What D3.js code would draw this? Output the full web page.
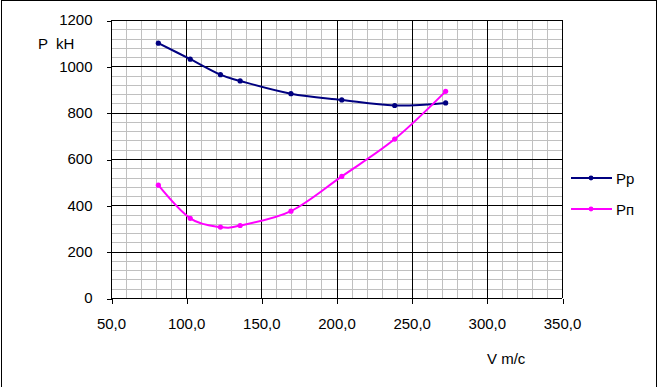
<!DOCTYPE html>
<html>
<head>
  <meta charset="utf-8">
  <title>P(V)</title>
  <style type="text/css">
    body { margin: 0; background-color: #fff; }
    svg { display: block; }
    text { font-family: "Liberation Sans", Arial, sans-serif; font-size: 15px; fill: #000; }
  </style>
  <script src="https://d3js.org/d3.v7.min.js"></script>
</head>
<body>
<script>
// data
var speed = [81.5, 102.7, 122.8, 135.9, 169.7, 203.5, 238.7, 272.6];
var pReq = [1100, 1031, 964, 937, 882, 855, 831, 842];   // Рр
var pAvail = [487, 344, 306, 313, 375, 525, 686, 892];  // Рп
var xTicks = [50, 100, 150, 200, 250, 300, 350];
var yTicks = [0, 200, 400, 600, 800, 1000, 1200];
var seriesNames = ["Рр", "Рп"];
var seriesColors = ["#000080", "#ff00ff"];

var width = 658, height = 387;

var svg = d3.select("body").append("svg")
    .attr("width", width)
    .attr("height", height);

// outer frame
svg.append("rect")
    .attr("x", 1.5).attr("y", 0.5)
    .attr("width", 655).attr("height", 400)
    .attr("fill", "#fff").attr("stroke", "#000");

var x = d3.scaleLinear().domain([50, 350]).range([111, 562]);
var y = d3.scaleLinear().domain([0, 1200]).range([298, 20]);

var grid = svg.append("g").attr("shape-rendering", "crispEdges");

// minor grid
grid.selectAll("line.mx")
  .data(d3.range(60, 350, 10).filter(function(d) { return d % 50 != 0; }))
  .enter().append("line")
    .attr("x1", function(d) { return Math.round(x(d)) + 0.5; })
    .attr("x2", function(d) { return Math.round(x(d)) + 0.5; })
    .attr("y1", y(0)).attr("y2", y(1200))
    .attr("stroke", "#c0c0c0");

grid.selectAll("line.my")
  .data(d3.range(40, 1200, 40).filter(function(d) { return d % 200 != 0; }))
  .enter().append("line")
    .attr("y1", function(d) { return Math.round(y(d)) + 0.5; })
    .attr("y2", function(d) { return Math.round(y(d)) + 0.5; })
    .attr("x1", x(50)).attr("x2", x(350))
    .attr("stroke", "#c0c0c0");

// major grid
grid.selectAll("line.Mx")
  .data(xTicks)
  .enter().append("line")
    .attr("x1", function(d) { return Math.round(x(d)) + 0.5; })
    .attr("x2", function(d) { return Math.round(x(d)) + 0.5; })
    .attr("y1", y(0)).attr("y2", y(1200))
    .attr("stroke", "#000");

grid.selectAll("line.My")
  .data(yTicks)
  .enter().append("line")
    .attr("y1", function(d) { return Math.round(y(d)) + 0.5; })
    .attr("y2", function(d) { return Math.round(y(d)) + 0.5; })
    .attr("x1", x(50)).attr("x2", x(350))
    .attr("stroke", "#000");

// axes
var fmt = function(d) { return d3.format(".1f")(d).replace(".", ","); };

var xAxis = svg.append("g")
    .attr("transform", "translate(0," + (Math.round(y(0)) + 0.5) + ")")
    .call(d3.axisBottom(x).tickValues(xTicks).tickFormat(fmt).tickSize(5).tickPadding(15));
var yAxis = svg.append("g")
    .attr("transform", "translate(" + (Math.round(x(50)) + 0.5) + ",0)")
    .call(d3.axisLeft(y).tickValues(yTicks).tickFormat(d3.format("d")).tickSize(5).tickPadding(14));

[xAxis, yAxis].forEach(function(a) {
  a.attr("font-family", null).attr("font-size", null);
  a.select(".domain").remove();
  a.selectAll(".tick line").attr("stroke", "#000").attr("shape-rendering", "crispEdges");
  a.selectAll(".tick text").attr("fill", "#000");
});
xAxis.selectAll(".tick line").attr("x1", 0.5).attr("x2", 0.5);
yAxis.selectAll(".tick line").attr("y1", 0.5).attr("y2", 0.5);

// axis titles
svg.append("text").attr("x", 38).attr("y", 49).attr("xml:space", "preserve").text("P  kH");
svg.append("text").attr("x", 487).attr("y", 364).text("V m/c");

// series
var line = d3.line()
    .x(function(d) { return x(d[0]); })
    .y(function(d) { return y(d[1]); })
    .curve(d3.curveCardinal.tension(0));

[pReq, pAvail].forEach(function(vals, i) {
  var pts = speed.map(function(v, j) { return [v, vals[j]]; });
  svg.append("path")
      .datum(pts)
      .attr("d", line)
      .attr("fill", "none")
      .attr("stroke", seriesColors[i])
      .attr("stroke-width", 2);
  svg.selectAll("circle.s" + i)
    .data(pts)
    .enter().append("circle")
      .attr("cx", function(d) { return x(d[0]); })
      .attr("cy", function(d) { return y(d[1]); })
      .attr("r", 2.6)
      .attr("fill", seriesColors[i]);
});

// legend
var legend = svg.selectAll("g.legend")
    .data(seriesNames)
    .enter().append("g")
      .attr("transform", function(d, i) { return "translate(571," + (178 + i * 31) + ")"; });
legend.append("line")
    .attr("x1", 0).attr("x2", 41)
    .attr("stroke", function(d, i) { return seriesColors[i]; })
    .attr("stroke-width", 2);
legend.append("circle")
    .attr("cx", 20).attr("r", 2.4)
    .attr("fill", function(d, i) { return seriesColors[i]; });
legend.append("text")
    .attr("x", 45).attr("y", 5.5)
    .text(function(d) { return d; });
</script>
</body>
</html>
